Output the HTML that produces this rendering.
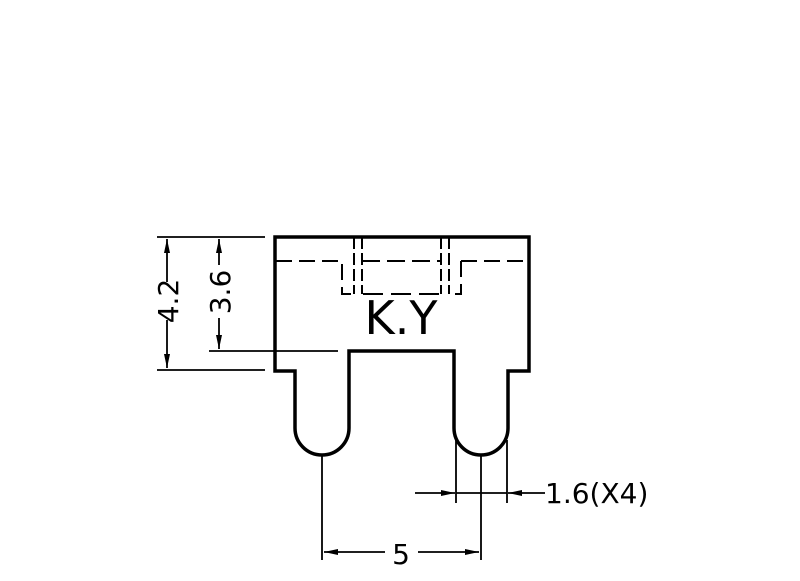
<!DOCTYPE html>
<html><head><style>html,body{margin:0;padding:0;background:#fff}</style></head>
<body>
<svg width="800" height="576" viewBox="0 0 800 576" xmlns="http://www.w3.org/2000/svg" font-family="'DejaVu Sans','Liberation Sans',sans-serif">
<defs>
<marker id="a" viewBox="0 0 14 6" refX="14" refY="3" markerWidth="14" markerHeight="6" markerUnits="userSpaceOnUse" orient="auto"><path d="M0,0L14,3L0,6z" fill="#000"/></marker>
</defs>
<g fill="none" stroke="#000" stroke-width="3.5">
<path d="M275,371V237H529V371H508V428A27,27 0 0 1 454,428V351H349V428A27,27 0 0 1 295,428V371Z"/>
</g>
<g fill="none" stroke="#000" stroke-width="2" stroke-dasharray="16,7">
<path d="M276,261H342V294H354"/>
<path d="M461,261H528"/>
<path d="M461,261V294H449"/>
<path d="M363,294H440" stroke-dasharray="20,8"/>
<path d="M354,237V294M362,237V294M441,237V294M449,237V294" stroke-dasharray="12,4"/>
<path d="M362,261H441" stroke-dasharray="18,7"/>
</g>
<text x="401" y="334" font-size="46" text-anchor="middle">K.Y</text>
<g stroke="#000" stroke-width="1.8" fill="none">
<path d="M157,237H265M157,370H265M209,351H338"/>
<path d="M167,282V239" marker-end="url(#a)"/>
<path d="M167,320V368" marker-end="url(#a)"/>
<path d="M219,265V239" marker-end="url(#a)"/>
<path d="M219,318V349" marker-end="url(#a)"/>
<path d="M322,455V560M481,455V560M456,440V503M507,440V503"/>
<path d="M415,493H455" marker-end="url(#a)"/>
<path d="M545,493H508" marker-end="url(#a)"/>
<path d="M456,493H507"/>
<path d="M385,552H324" marker-end="url(#a)"/>
<path d="M418,552H479" marker-end="url(#a)"/>
</g>
<text transform="translate(178,301) rotate(-90)" font-size="28" text-anchor="middle">4.2</text>
<text transform="translate(230,292) rotate(-90)" font-size="28" text-anchor="middle">3.6</text>
<text x="545" y="503" font-size="28">1.6(X4)</text>
<text x="401" y="564" font-size="28" text-anchor="middle">5</text>
</svg>
</body></html>
